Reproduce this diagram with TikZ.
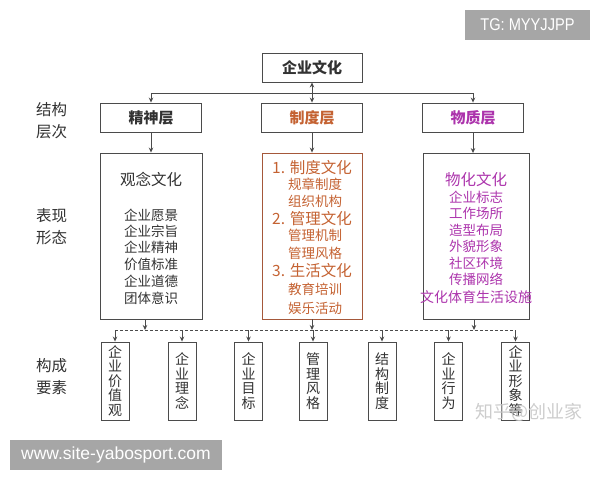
\documentclass[tikz,border=0pt]{standalone}
\usepackage{fontspec}
\setmainfont{Noto Sans CJK SC}
\newfontfamily\lat{Liberation Sans}
\usetikzlibrary{arrows.meta}
\definecolor{txt}{RGB}{50,50,50}
\definecolor{ln}{RGB}{75,75,75}
\definecolor{zdc}{RGB}{196,98,50}
\definecolor{zdb}{RGB}{165,88,58}
\definecolor{wzc}{RGB}{172,52,172}
\definecolor{wmk}{RGB}{166,166,166}
\begin{document}
\begin{tikzpicture}[x=1pt,y=-1pt,
  box/.style={draw=ln,line width=0.9pt,rectangle,inner sep=0pt,text=txt},
  lvl/.style={box,minimum width=101pt,minimum height=29pt,font=\fontsize{15}{15}\selectfont\bfseries},
  bigbox/.style={box,minimum height=166pt},
  sbox/.style={box,minimum width=28pt,minimum height=78pt,align=center,font=\fontsize{14}{14.6}\selectfont},
  side/.style={align=center,text=txt,inner sep=0pt,font=\fontsize{15.5}{22}\selectfont},
  hd/.style={inner sep=0pt,font=\fontsize{15.5}{15.5}\selectfont},
  it/.style={inner sep=0pt,font=\fontsize{13.5}{13.5}\selectfont},
  arr/.style={draw=ln,line width=0.8pt,-{Stealth[length=5pt,width=4.5pt]}},
  darr/.style={draw=ln,line width=0.8pt,{Stealth[length=5pt,width=4.5pt]}-{Stealth[length=5pt,width=4.5pt]}},
  plain/.style={draw=ln,line width=0.8pt},
  dline/.style={draw=ln,line width=0.8pt,dash pattern=on 3pt off 2pt},
  graybox/.style={fill=wmk,text=white,inner sep=0pt}
]
\useasboundingbox (0,0) rectangle (600,480);

% watermark boxes
\node[graybox,minimum width=125pt,minimum height=30pt,font=\lat\fontsize{17}{17}\selectfont] (tg) at (527.5,25) {\scalebox{0.86}[1]{TG: MYYJJPP}};
\node[graybox,minimum width=212pt,minimum height=30pt,font=\lat\fontsize{17.5}{17.5}\selectfont] (www) at (116,455) {www.site-yabosport.com};

% top
\node[box,minimum width=100pt,minimum height=29pt,font=\fontsize{15}{15}\selectfont\bfseries] (top) at (312,67.5) {企业文化};

% levels
\node[lvl] (js) at (151,117.5) {精神层};
\node[lvl,text=zdc] (zd) at (312,117.5) {制度层};
\node[lvl,text=wzc] (wz) at (473,117.5) {物质层};

% side labels
\node[side] (s1) at (51.5,121) {结构\\层次};
\node[side] (s2) at (51.5,227) {表现\\形态};
\node[side] (s3) at (51.5,376.5) {构成\\要素};

% big boxes
\node[bigbox,minimum width=102pt] (bjs) at (151,236) {};
\node[bigbox,minimum width=100pt,draw=zdb] (bzd) at (312,236) {};
\node[bigbox,minimum width=106pt] (bwz) at (476,236.5) {};

% left box text
\node[hd,text=txt] (l0) at (151,179) {观念文化};
\node[it,text=txt] (l1) at (151,215) {企业愿景};
\node[it,text=txt] (l2) at (151,231) {企业宗旨};
\node[it,text=txt] (l3) at (151,247.5) {企业精神};
\node[it,text=txt] (l4) at (151,264) {价值标准};
\node[it,text=txt] (l5) at (151,281) {企业道德};
\node[it,text=txt] (l6) at (151,298) {团体意识};

% middle box text
\node[hd,text=zdc] (m1) at (312,168) {1. 制度文化};
\node[it,text=zdc] (m2) at (315,184.5) {规章制度};
\node[it,text=zdc] (m3) at (315,201) {组织机构};
\node[hd,text=zdc] (m4) at (312,219) {2. 管理文化};
\node[it,text=zdc] (m5) at (315,235.5) {管理机制};
\node[it,text=zdc] (m6) at (315,253) {管理风格};
\node[hd,text=zdc] (m7) at (312,271) {3. 生活文化};
\node[it,text=zdc] (m8) at (315,289) {教育培训};
\node[it,text=zdc] (m9) at (315,308) {娱乐活动};

% right box text
\node[hd,text=wzc] (r0) at (476,180) {物化文化};
\node[it,text=wzc] (r1) at (476,197) {企业标志};
\node[it,text=wzc] (r2) at (476,213.5) {工作场所};
\node[it,text=wzc] (r3) at (476,230) {造型布局};
\node[it,text=wzc] (r4) at (476,246.5) {外貌形象};
\node[it,text=wzc] (r5) at (476,263) {社区环境};
\node[it,text=wzc] (r6) at (476,279.5) {传播网络};
\node[inner sep=0pt,font=\fontsize{14}{14}\selectfont,text=wzc] (r7) at (476,297) {文化体育生活设施};

% small boxes
\node[sbox] (b1) at (115,381) {企\\业\\价\\值\\观};
\node[sbox] (b2) at (182,381) {企\\业\\理\\念};
\node[sbox] (b3) at (248.5,381) {企\\业\\目\\标};
\node[sbox] (b4) at (313,381) {管\\理\\风\\格};
\node[sbox] (b5) at (382,381) {结\\构\\制\\度};
\node[sbox] (b6) at (448.5,381) {企\\业\\行\\为};
\node[sbox] (b7) at (515.5,381) {企\\业\\形\\象\\等};

% top connectors
\coordinate (hl) at (0,93);
\draw[plain] (js.north |- hl) -- (wz.north |- hl);
\draw[arr] (js.north |- hl) -- (js.north);
\draw[arr] (wz.north |- hl) -- (wz.north);
\draw[darr] (top.south) -- (zd.north);
\draw[arr] (js.south) -- (bjs.north);
\draw[arr] (zd.south) -- (bzd.north);
\draw[arr] (wz.south) -- (wz.south |- bwz.north);

% bottom connectors
\coordinate (dl) at (0,330);
\draw[dline] (b1.north |- dl) -- (b7.north |- dl);
\draw[arr] ([xshift=-6pt]bjs.south) -- ([xshift=-6pt]bjs.south |- dl);
\draw[arr] (bzd.south) -- (bzd.south |- dl);
\draw[arr] ([xshift=-2pt]bwz.south) -- ([xshift=-2pt]bwz.south |- dl);
\foreach \b in {b1,b2,b3,b4,b5,b6,b7}
  \draw[arr] (\b.north |- dl) -- (\b.north);

% watermark text
\node[inner sep=0pt,text=black!22,opacity=0.9,font=\fontsize{18}{18}\selectfont] (zh) at (529,412) {知乎@创业家};
\end{tikzpicture}
\end{document}
